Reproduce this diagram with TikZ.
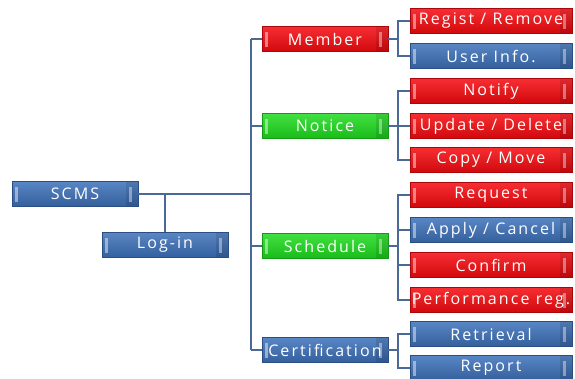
\documentclass[tikz,border=0pt]{standalone}
\usepackage{fontspec}
\newfontfamily\boxfont{Open Sans}[LetterSpace=13]
\definecolor{cred}{RGB}{245,10,15}
\definecolor{cgreen}{RGB}{30,220,30}
\definecolor{cblue}{RGB}{60,112,185}
\definecolor{cline}{RGB}{75,105,150}
\tikzset{
  box/.style={rectangle, minimum width=126pt, minimum height=25pt, inner sep=0pt,
    text=white, font=\boxfont\fontsize{16}{17}\selectfont,
    draw=#1!70!black, line width=0.6pt,
    top color=#1!85!white, middle color=#1, bottom color=#1!85!black,
    path picture={
      \fill[white,opacity=0.45] ([xshift=3pt,yshift=-5pt]path picture bounding box.north west) rectangle ([xshift=6pt,yshift=5pt]path picture bounding box.south west);
      \fill[black,opacity=0.1] ([xshift=-12pt]path picture bounding box.north east) rectangle (path picture bounding box.south east);
      \fill[white,opacity=0.4] ([xshift=-9pt,yshift=-5pt]path picture bounding box.north east) rectangle ([xshift=-6pt,yshift=5pt]path picture bounding box.south east);
    }},
  leaf/.style={box=#1, minimum width=162pt},
  conn/.style={draw=cline, line width=2pt}
}
\begin{document}
\begin{tikzpicture}[x=1pt,y=-1pt]
\useasboundingbox (0,0) rectangle (575,378);
\fill[white] (0,0) rectangle (575,378);
\coordinate (tr) at (251,0);
\coordinate (br) at (398,0);
% main nodes
\node[box=cblue] (scms) at (75,194) {SCMS};
\node[box=cblue] (login) at (165,245) {Log-in};
\node[box=cred] (member) at (325,39) {Member};
\node[box=cgreen] (notice) at (325,126) {Notice};
\node[box=cgreen] (schedule) at (325,246) {Schedule};
\node[box=cblue] (cert) at (325,350) {Certification};
% leaves
\node[leaf=cred] (regist) at (491,21) {Regist / Remove};
\node[leaf=cblue] (user) at (491,56) {User Info.};
\node[leaf=cred] (notify) at (491,91) {Notify};
\node[leaf=cred] (update) at (491,126) {Update / Delete};
\node[leaf=cred] (copy) at (491,160) {Copy / Move};
\node[leaf=cred] (request) at (491,195) {Request};
\node[leaf=cblue] (apply) at (491,230) {Apply / Cancel};
\node[leaf=cred] (confirm) at (491,265) {Confirm};
\node[leaf=cred] (perf) at (491,300) {Performance reg.};
\node[leaf=cblue] (retr) at (491,334) {Retrieval};
\node[leaf=cblue] (report) at (491,368) {Report};
% connectors
\path[conn] (scms.east) -- (scms.east -| tr);
\path[conn] (login.north) -- (login.north |- scms.east);
\path[conn] (member.west -| tr) -- (cert.west -| tr);
\path[conn] (member.west) -- (member.west -| tr);
\path[conn] (notice.west) -- (notice.west -| tr);
\path[conn] (schedule.west) -- (schedule.west -| tr);
\path[conn] (cert.west) -- (cert.west -| tr);
\path[conn] (member.east) -- (member.east -| br);
\path[conn] (regist.west) -| (member.east -| br) |- (user.west);
\path[conn] (notice.east) -- (update.west);
\path[conn] (notify.west) -| (notice.east -| br) |- (copy.west);
\path[conn] (schedule.east) -- (schedule.east -| br);
\path[conn] (request.west) -| (schedule.east -| br) |- (perf.west);
\path[conn] (apply.west) -- (apply.west -| br);
\path[conn] (confirm.west) -- (confirm.west -| br);
\path[conn] (cert.east) -- (cert.east -| br);
\path[conn] (retr.west) -| (cert.east -| br) |- (report.west);
\end{tikzpicture}
\end{document}
